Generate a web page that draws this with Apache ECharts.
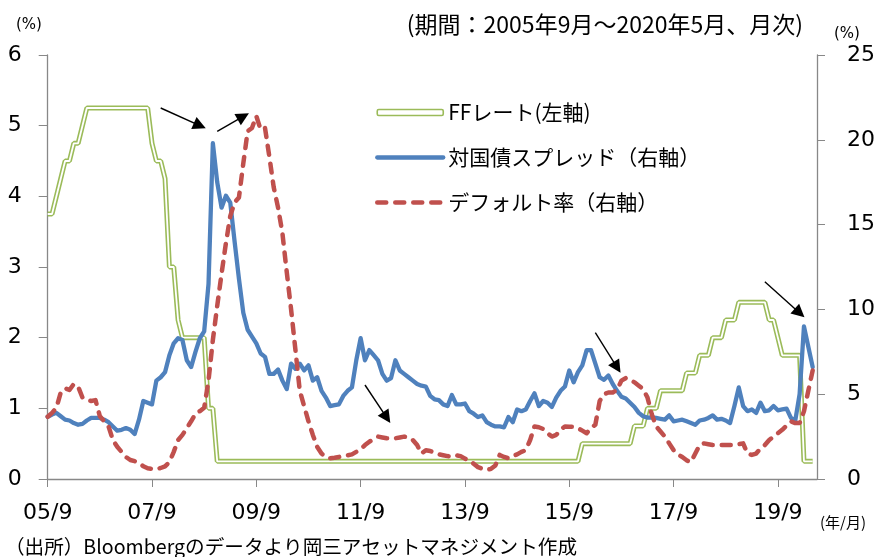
<!DOCTYPE html>
<html>
<head>
<meta charset="utf-8">
<script src="https://cdn.jsdelivr.net/npm/echarts@6/dist/echarts.min.js"></script>
<style>
html, body { margin: 0; padding: 0; background: #fff; }
#main { width: 878px; height: 557px; }
</style>
</head>
<body>
<div id="main"></div>
<script>
// 月次カテゴリ（2005/9～、軸の右端に1ヶ月分の余白）
var months = [];
for (var i = 0; i < 178; i++) {
    var m = 8 + i;
    var y = 2005 + Math.floor(m / 12);
    months.push(String(y).slice(2) + '/' + (m % 12 + 1));
}

// FFレート（左軸, %）
var ffRate = [
    3.75, 3.75, 4.0, 4.25, 4.5, 4.5, 4.75, 4.75, 5.0, 5.25,
    5.25, 5.25, 5.25, 5.25, 5.25, 5.25, 5.25, 5.25, 5.25, 5.25,
    5.25, 5.25, 5.25, 5.25, 4.75, 4.5, 4.5, 4.25, 3.0, 3.0,
    2.25, 2.0, 2.0, 2.0, 2.0, 2.0, 2.0, 1.0, 1.0, 0.25,
    0.25, 0.25, 0.25, 0.25, 0.25, 0.25, 0.25, 0.25, 0.25, 0.25,
    0.25, 0.25, 0.25, 0.25, 0.25, 0.25, 0.25, 0.25, 0.25, 0.25,
    0.25, 0.25, 0.25, 0.25, 0.25, 0.25, 0.25, 0.25, 0.25, 0.25,
    0.25, 0.25, 0.25, 0.25, 0.25, 0.25, 0.25, 0.25, 0.25, 0.25,
    0.25, 0.25, 0.25, 0.25, 0.25, 0.25, 0.25, 0.25, 0.25, 0.25,
    0.25, 0.25, 0.25, 0.25, 0.25, 0.25, 0.25, 0.25, 0.25, 0.25,
    0.25, 0.25, 0.25, 0.25, 0.25, 0.25, 0.25, 0.25, 0.25, 0.25,
    0.25, 0.25, 0.25, 0.25, 0.25, 0.25, 0.25, 0.25, 0.25, 0.25,
    0.25, 0.25, 0.25, 0.5, 0.5, 0.5, 0.5, 0.5, 0.5, 0.5,
    0.5, 0.5, 0.5, 0.5, 0.5, 0.75, 0.75, 0.75, 1.0, 1.0,
    1.0, 1.25, 1.25, 1.25, 1.25, 1.25, 1.25, 1.5, 1.5, 1.5,
    1.75, 1.75, 1.75, 2.0, 2.0, 2.0, 2.25, 2.25, 2.25, 2.5,
    2.5, 2.5, 2.5, 2.5, 2.5, 2.5, 2.25, 2.25, 2.0, 1.75,
    1.75, 1.75, 1.75, 1.75, 0.25, 0.25, 0.25
];

// 対国債スプレッド（右軸, %）
var spread = [
    3.67, 3.8, 3.9, 3.7, 3.5, 3.45, 3.3, 3.2, 3.25, 3.45,
    3.6, 3.6, 3.6, 3.5, 3.35, 3.1, 2.85, 2.9, 3.0, 2.9,
    2.65, 3.5, 4.6, 4.5, 4.4, 5.8, 6.0, 6.3, 7.3, 8.0,
    8.3, 8.2, 7.0, 6.6, 7.5, 8.3, 8.7, 11.5, 19.8, 17.5,
    16.0, 16.7, 16.3, 14.0, 11.8, 9.8, 8.8, 8.4, 8.0, 7.4,
    7.2, 6.2, 6.2, 6.45, 5.8, 5.3, 6.8, 6.5, 6.8, 6.4,
    6.7, 5.8, 6.0, 5.2, 4.8, 4.3, 4.35, 4.4, 4.9, 5.2,
    5.4, 7.0, 8.3, 7.0, 7.6, 7.3, 7.0, 6.2, 5.8, 5.95,
    7.0, 6.4, 6.2, 6.0, 5.8, 5.6, 5.5, 5.45, 4.9, 4.7,
    4.65, 4.4, 4.3, 4.95, 4.4, 4.4, 4.45, 4.0, 3.85, 3.65,
    3.75, 3.35, 3.2, 3.1, 3.1, 3.05, 3.65, 3.35, 4.1, 4.0,
    4.1, 4.6, 5.05, 4.3, 4.6, 4.5, 4.25, 4.8, 5.2, 5.45,
    6.4, 5.7, 6.3, 6.7, 7.6, 7.6, 6.8, 6.0, 5.85, 6.1,
    5.6, 5.2, 4.85, 4.75, 4.5, 4.25, 3.9, 3.7, 3.62, 3.63,
    3.6, 3.55, 3.5, 3.75, 3.4, 3.45, 3.5, 3.4, 3.3, 3.2,
    3.45, 3.5, 3.6, 3.75, 3.5, 3.55, 3.45, 3.3, 4.3, 5.4,
    4.3, 4.0, 4.1, 3.9, 4.5, 4.0, 4.05, 4.3, 4.05, 4.1,
    4.15, 3.6, 3.45, 5.0, 9.0, 7.8, 6.6
];

// デフォルト率（右軸, %）
var defaultRate = [
    3.67, 3.9, 4.2, 5.1, 5.35, 5.25, 5.6, 5.45, 4.8, 4.65,
    4.6, 4.65, 3.7, 3.4, 3.1, 2.3, 1.9, 1.6, 1.3, 1.12,
    1.05, 0.95, 0.75, 0.63, 0.6, 0.57, 0.65, 0.75, 1.0, 1.6,
    2.3, 2.6, 3.0, 3.4, 3.85, 4.0, 4.2, 5.8, 8.2, 10.2,
    12.1, 13.9, 15.5, 16.3, 16.6, 18.6, 20.5, 20.7, 21.4, 20.6,
    20.7, 19.0, 17.2, 16.0, 14.5, 12.2, 10.0, 7.6, 5.2, 4.3,
    3.4, 2.6, 1.9, 1.5, 1.3, 1.22, 1.25, 1.3, 1.35, 1.4,
    1.45, 1.6, 1.75, 2.0, 2.2, 2.35, 2.5, 2.45, 2.4, 2.4,
    2.4, 2.45, 2.5, 2.45, 2.3, 2.0, 1.5, 1.7, 1.65, 1.55,
    1.45, 1.4, 1.35, 1.32, 1.4, 1.35, 1.2, 1.1, 0.9, 0.7,
    0.6, 0.53, 0.6, 0.8, 1.42, 1.3, 1.22, 1.35, 1.45, 1.6,
    1.7, 2.3, 3.1, 3.05, 2.95, 2.7, 2.5, 2.6, 2.9, 3.1,
    3.08, 3.08, 3.0, 2.85, 2.7, 3.0, 3.2, 4.6, 5.0, 5.1,
    5.1, 5.25, 5.8, 5.95, 5.85, 5.7, 5.5, 5.3, 4.8, 3.8,
    3.1, 2.8, 2.5, 2.1, 1.7, 1.45, 1.3, 1.1, 1.0, 1.5,
    2.0, 2.1, 2.05, 2.0, 2.0, 2.0, 2.0, 2.0, 2.0, 2.05,
    2.1, 1.5, 1.42, 1.5, 1.8, 2.0, 2.3, 2.5, 2.7, 2.9,
    3.15, 3.4, 3.3, 3.3, 4.0, 5.2, 6.4
];

// 注目点の矢印（[月インデックス, 左軸の値] 始点→終点）
var arrows = [
    [[26, 5.25], [35, 5.0]],
    [[39, 4.92], [45, 5.13]],
    [[73, 1.33], [78, 0.87]],
    [[126, 2.07], [131, 1.58]],
    [[165, 2.79], [173, 2.35]]
];

var nameFF = 'FFレート(左軸)';
var nameSpread = '対国債スプレッド（右軸）';
var nameDefault = 'デフォルト率（右軸）';

var jpFont = '"Noto Sans CJK JP", sans-serif';
var numFont = '"DejaVu Sans", sans-serif';

var myChart = echarts.init(document.getElementById('main'), null, { renderer: 'canvas' });

var arrowData = arrows.map(function (a) {
    return [{ coord: a[0] }, { coord: a[1] }];
});

var option = {
    animation: false,
    backgroundColor: '#fff',
    title: [
        { text: '(%)', left: 11, top: 13, textStyle: { fontFamily: numFont, fontSize: 15, fontWeight: 'normal', color: '#000' } },
        { text: '(%)', left: 829, top: 22, textStyle: { fontFamily: numFont, fontSize: 15, fontWeight: 'normal', color: '#000' } },
        { text: '(期間：2005年9月～2020年5月、月次)', right: 70, top: 8, textStyle: { fontFamily: jpFont, fontSize: 23, fontWeight: 'normal', color: '#000' } },
        { text: '(年/月)', left: 815, top: 510, textStyle: { fontFamily: jpFont, fontSize: 15, fontWeight: 'normal', color: '#000' } },
        { text: '（出所）Bloombergのデータより岡三アセットマネジメント作成', left: 0, top: 532, textStyle: { fontFamily: jpFont, fontSize: 19.6, fontWeight: 'normal', color: '#000' } }
    ],
    legend: {
        orient: 'vertical',
        left: 370,
        top: 97,
        itemWidth: 66,
        itemHeight: 6,
        itemGap: 24,
        selectedMode: false,
        textStyle: { fontFamily: jpFont, fontSize: 21, color: '#000' },
        data: [
            { name: nameFF, icon: 'roundRect', itemStyle: { color: '#fff', borderColor: '#9bbb59', borderWidth: 1.6 } },
            { name: nameSpread, itemStyle: { opacity: 0 }, lineStyle: { width: 4.3, color: '#4f81bd', cap: 'round' } },
            { name: nameDefault, itemStyle: { opacity: 0 }, lineStyle: { width: 4.5, color: '#c0504d', type: [9, 9], cap: 'round' } }
        ]
    },
    grid: { left: 47.7, right: 59, top: 55, bottom: 78 },
    xAxis: {
        type: 'category',
        data: months,
        boundaryGap: false,
        axisLine: { lineStyle: { color: '#888', width: 1.3 } },
        axisTick: { interval: 23, length: 8, lineStyle: { color: '#888' } },
        axisLabel: { interval: 23, margin: 23, fontFamily: numFont, fontSize: 22, color: '#000' },
        splitLine: { show: false }
    },
    yAxis: [
        {
            type: 'value', min: 0, max: 6, interval: 1,
            axisLine: { show: true, lineStyle: { color: '#888', width: 1.3 } },
            axisTick: { show: true, length: 9, lineStyle: { color: '#888' } },
            axisLabel: { margin: 26, fontFamily: numFont, fontSize: 22, color: '#000' },
            splitLine: { show: false }
        },
        {
            type: 'value', min: 0, max: 25, interval: 5,
            axisLine: { show: true, lineStyle: { color: '#888', width: 1.3 } },
            axisTick: { show: true, length: 8, lineStyle: { color: '#888' } },
            axisLabel: { margin: 30, fontFamily: numFont, fontSize: 22, color: '#000' },
            splitLine: { show: false }
        }
    ],
    series: [
        {
            name: nameFF,
            type: 'line',
            yAxisIndex: 0,
            data: ffRate,
            symbol: 'none',
            color: '#9bbb59',
            lineStyle: { color: '#9bbb59', width: 5 },
            z: 2
        },
        {
            name: 'ff-inner',
            type: 'line',
            yAxisIndex: 0,
            data: ffRate,
            symbol: 'none',
            lineStyle: { color: '#fff', width: 1.8 },
            silent: true,
            z: 2,
            markLine: {
                silent: true,
                symbol: ['none', 'triangle'],
                symbolSize: 13,
                label: { show: false },
                lineStyle: { color: '#000', width: 1.4, type: 'solid' },
                itemStyle: { color: '#000' },
                data: arrowData
            }
        },
        {
            name: nameSpread,
            type: 'line',
            yAxisIndex: 1,
            data: spread,
            symbol: 'none',
            color: '#4f81bd',
            lineStyle: { color: '#4f81bd', width: 4.3, join: 'round', cap: 'round' },
            z: 3
        },
        {
            name: nameDefault,
            type: 'line',
            yAxisIndex: 1,
            data: defaultRate,
            symbol: 'none',
            color: '#c0504d',
            lineStyle: { color: '#c0504d', width: 4.5, type: [9, 9], cap: 'round', join: 'round' },
            z: 4
        }
    ]
};

myChart.setOption(option);
</script>
</body>
</html>
